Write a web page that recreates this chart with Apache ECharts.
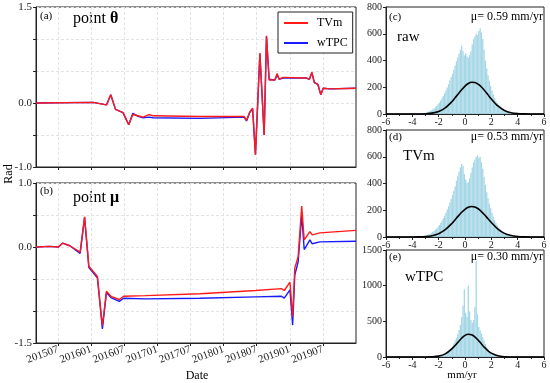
<!DOCTYPE html>
<html><head><meta charset="utf-8">
<script src="https://cdn.jsdelivr.net/npm/echarts@6/dist/echarts.min.js"></script>
<style>html,body{margin:0;padding:0;background:#fff}#c{width:550px;height:383px}</style>
</head><body><div id="c"></div>
<script>
// ---- panel (a): point theta ----
const thetaDates = ['2015-03-01','2016-01-11','2016-03-25','2016-04-18','2016-05-14','2016-06-25','2016-07-26','2016-08-18','2016-09-16','2016-10-14','2016-11-15','2016-12-08','2017-08-23','2018-04-23','2018-05-06','2018-05-24','2018-06-09','2018-06-25','2018-07-19','2018-08-12','2018-08-25','2018-09-09','2018-09-18','2018-10-10','2018-10-23','2018-11-03','2018-11-25','2019-04-02','2019-04-18','2019-05-01','2019-05-15','2019-06-04','2019-06-20','2019-07-03','2019-08-10','2020-01-01'];
const thetaTVm  = [0.00,0.01,-0.03,0.13,-0.10,-0.15,-0.34,-0.18,-0.20,-0.22,-0.18,-0.20,-0.21,-0.21,-0.27,-0.14,-0.08,-0.81,0.78,-0.50,1.05,0.36,0.33,0.36,0.46,0.37,0.40,0.39,0.37,0.48,0.32,0.29,0.13,0.23,0.22,0.23];
const thetaWTPC = [0.00,0.01,-0.03,0.13,-0.10,-0.15,-0.34,-0.16,-0.21,-0.23,-0.22,-0.23,-0.24,-0.22,-0.28,-0.15,-0.09,-0.80,0.77,-0.50,1.04,0.37,0.34,0.36,0.44,0.37,0.39,0.39,0.37,0.47,0.32,0.29,0.13,0.23,0.22,0.23];
// ---- panel (b): point mu ----
const muDates = ['2015-03-01','2015-05-16','2015-07-03','2015-07-26','2015-09-05','2015-11-01','2015-11-26','2015-12-19','2016-02-05','2016-03-02','2016-03-25','2016-04-19','2016-06-04','2016-06-28','2016-10-29','2017-08-23','2018-06-27','2018-11-16','2018-12-01','2019-01-02','2019-01-17','2019-01-29','2019-02-17','2019-03-06','2019-03-20','2019-04-21','2019-05-03','2019-06-15','2020-01-01'];
const muTVm  = [0.00,0.01,0.00,0.06,0.02,-0.08,0.47,-0.30,-0.46,-1.23,-0.69,-0.77,-0.82,-0.77,-0.76,-0.73,-0.68,-0.65,-0.68,-0.55,-1.09,-0.33,-0.15,0.64,0.11,0.24,0.19,0.22,0.26];
const muWTPC = [0.00,0.01,0.00,0.06,0.02,-0.10,0.46,-0.32,-0.48,-1.28,-0.71,-0.79,-0.85,-0.80,-0.81,-0.80,-0.78,-0.77,-0.80,-0.67,-1.22,-0.44,-0.23,0.50,-0.04,0.11,0.05,0.08,0.09];
const dateTicks = ['201507','201601','201607','201701','201707','201801','201807','201901','201907'];

// ---- histograms (bin width 0.1, first bin centre -3.45) ----
const histRaw = [2,3,4,5,8,10,14,18,22,28,35,42,50,60,72,85,100,118,135,155,175,198,222,250,275,300,330,360,395,420,450,480,510,470,440,455,430,420,440,470,520,560,580,600,590,620,640,610,560,480,400,340,290,250,210,175,145,120,100,82,68,55,45,37,30,24,19,15,12,9,7,6,5,4,3,2,2,1,1,1];
const histTVm = [2,3,4,6,8,11,15,19,24,30,37,45,54,64,76,90,105,122,140,160,182,205,230,258,285,315,345,380,420,455,490,520,545,530,470,430,405,410,440,480,520,560,580,600,610,590,600,560,510,450,390,335,290,250,215,182,152,126,104,86,71,58,47,38,31,25,20,16,12,10,8,6,5,4,3,2,2,1,1,1];
const histWTPC = [0,0,1,1,2,2,3,4,5,6,8,10,13,17,22,10,14,19,25,33,43,56,72,95,120,150,190,230,270,320,380,450,560,720,950,620,560,1000,640,520,480,520,700,1350,600,420,370,330,280,230,180,140,105,80,60,45,34,25,19,14,10,8,6,4,3,2,2,1,1,1,0,0,0,0,0,0,0,0,0,0];
const curveX = [-6,-5,-4,-3.5,-3,-2.5,-2,-1.5,-1,-0.75,-0.5,-0.25,0,0.25,0.5,0.75,1,1.25,1.5,1.75,2,2.5,3,3.5,4,4.5,5,6];
const curveRaw  = [0,0,0,0.4,1.8,6.4,18.8,45.6,91.5,120.6,152,182,209,228,237,236,223,202,174,143,112,60,26.4,9.7,2.9,0.7,0,0];
const curveTVm  = [0,0,0.2,0.8,3,9.4,24.7,54.5,101,129,158,185,207,222,228,224,211,190,164,136,108,59,27,10.7,3.5,1,0,0];
const curveWTPC = [0,0,0,0,0.4,2.5,12.2,43.3,113,162,215,265,303,319,312,282,236,183,131,87,54,16.1,3.6,0.6,0,0,0,0];
const panelMeans = ['μ= 0.59 mm/yr','μ= 0.53 mm/yr','μ= 0.30 mm/yr'];

function toMonth(s){const p=s.split('-').map(Number);return (p[0]-2015)*12+(p[1]-1)+(p[2]-1)/31;}
const tickVals = dateTicks.map(t=>(Number(t.slice(0,4))-2015)*12+Number(t.slice(4))-1);
const tickLabel = v=>{const y=2015+Math.floor(v/12);const m=Math.round(v-(y-2015)*12)+1;return ''+y+(m<10?'0':'')+m;};
const binCenters = histRaw.map((_,i)=>+(-3.45+0.1*i).toFixed(2));

const FONT='Liberation Serif';
const RED='#ff1a1a', BLUE='#1a1aff', HIST='#a6d7e6';
const grids=[
  {left:36,top:7,width:320,height:160},
  {left:36,top:183,width:320,height:160},
  {left:386,top:7,width:158,height:107},
  {left:386,top:130,width:158,height:107},
  {left:386,top:250,width:158,height:107}
].map(g=>Object.assign(g,{show:true,borderColor:'#222',borderWidth:1,backgroundColor:'transparent'}));

const splitL={show:true,lineStyle:{color:'#e3e3e3',type:[3,2],width:1}};
const axLine={show:true,onZero:false,lineStyle:{color:'#222'}};
function dateAxis(i,showLabels){
  return {type:'value',gridIndex:i,min:2,max:60,
    axisLine:axLine,
    axisTick:{show:true,customValues:tickVals,length:3,lineStyle:{color:'#222'}},
    axisLabel:{show:showLabels,customValues:tickVals,formatter:tickLabel,rotate:20,fontFamily:FONT,fontSize:11,color:'#222',margin:6},
    splitLine:splitL};
}
function radAxis(i,min,max,shown){
  return {type:'value',gridIndex:i,min:min,max:max,interval:0.5,
    axisLine:axLine,
    axisTick:{show:true,length:3,lineStyle:{color:'#222'}},
    axisLabel:{fontFamily:FONT,fontSize:11,color:'#222',margin:4,
      formatter:v=>shown.some(s=>Math.abs(s-v)<1e-6)?v.toFixed(1):''},
    splitLine:splitL};
}
function histX(i){
  return {type:'value',gridIndex:i,min:-6,max:6,interval:2,
    axisLine:axLine,
    axisTick:{show:true,length:3,lineStyle:{color:'#222'}},
    minorTick:{show:true,splitNumber:2,length:2,lineStyle:{color:'#222'}},
    axisLabel:{fontFamily:FONT,fontSize:10,color:'#222',margin:3},
    splitLine:{show:false}};
}
function histY(i,max,interval){
  return {type:'value',gridIndex:i,min:0,max:max,interval:interval,
    axisLine:axLine,
    axisTick:{show:true,length:3,lineStyle:{color:'#222'}},
    axisLabel:{fontFamily:FONT,fontSize:10,color:'#222',margin:4,formatter:v=>String(v)},
    splitLine:{show:false}};
}
function lineSeries(name,xi,dates,vals,color,z){
  return {type:'line',name:name,xAxisIndex:xi,yAxisIndex:xi,symbol:'none',z:z,
    lineStyle:{color:color,width:1.4},itemStyle:{color:color},
    data:dates.map((d,k)=>[toMonth(d),vals[k]])};
}
function histSeries(xi,vals){
  return {type:'bar',xAxisIndex:xi,yAxisIndex:xi,barCategoryGap:'0%',barGap:'0%',
    itemStyle:{color:HIST},data:binCenters.map((c,k)=>[c,vals[k]])};
}
function curveSeries(xi,vals){
  return {type:'line',xAxisIndex:xi,yAxisIndex:xi,symbol:'none',smooth:0.3,z:5,
    lineStyle:{color:'#000',width:1.6},data:curveX.map((x,k)=>[x,vals[k]])};
}
function txt(text,x,y,size,align){
  return {type:'text',style:{text:text,x:x,y:y,font:size+'px "'+FONT+'"',fill:'#000',align:align||'left',verticalAlign:'middle'}};
}
const boldRich={b:{fontFamily:FONT,fontSize:16,fontWeight:'bold',fill:'#000'},n:{fontFamily:FONT,fontSize:16,fill:'#000'}};

const chart=echarts.init(document.getElementById('c'),null,{renderer:'canvas'});
chart.setOption({
  animation:false,
  backgroundColor:'#fff',
  grid:grids,
  xAxis:[dateAxis(0,false),dateAxis(1,true),histX(2),histX(3),histX(4)],
  yAxis:[radAxis(0,-1,1.5,[-1,0,1.5]),radAxis(1,-1.5,1,[-1.5,0,1]),histY(2,800,200),histY(3,800,200),histY(4,1500,500)],
  legend:{data:['TVm','wTPC'],orient:'vertical',left:278,top:12,icon:'rect',itemWidth:24,itemHeight:2,itemGap:8,
    padding:[5,5,4,6],borderColor:'#222',borderWidth:1,backgroundColor:'#fff',
    textStyle:{fontFamily:FONT,fontSize:12,color:'#000',padding:[0,0,0,4]}},
  series:[
    lineSeries('wTPC',0,thetaDates,thetaWTPC,BLUE,2),
    lineSeries('TVm',0,thetaDates,thetaTVm,RED,3),
    lineSeries('wTPC',1,muDates,muWTPC,BLUE,2),
    lineSeries('TVm',1,muDates,muTVm,RED,3),
    histSeries(2,histRaw),curveSeries(2,curveRaw),
    histSeries(3,histTVm),curveSeries(3,curveTVm),
    histSeries(4,histWTPC),curveSeries(4,curveWTPC)
  ],
  graphic:[
    txt('(a)',40,16,11),
    {type:'text',style:{text:'{n|point }{b|θ}',x:73,y:19,verticalAlign:'middle',rich:boldRich}},
    txt('(b)',40,191,11),
    {type:'text',style:{text:'{n|point }{b|μ}',x:73,y:198,verticalAlign:'middle',rich:boldRich}},
    txt('(c)',389,17,11),txt(panelMeans[0],543,17,12,'right'),txt('raw',397,37,15),
    txt('(d)',389,137,11),txt(panelMeans[1],543,137,12,'right'),txt('TVm',403,156,15),
    txt('(e)',389,257,11),txt(panelMeans[2],543,257,12,'right'),txt('wTPC',405,277,15),
    txt('Date',197,376,12,'center'),
    txt('mm/yr',462,375,11,'center'),
    {type:'text',x:9,y:174,rotation:Math.PI/2,style:{text:'Rad',x:0,y:0,font:'12px "'+FONT+'"',fill:'#000',align:'center',verticalAlign:'middle'}}
  ]
});
</script></body></html>
